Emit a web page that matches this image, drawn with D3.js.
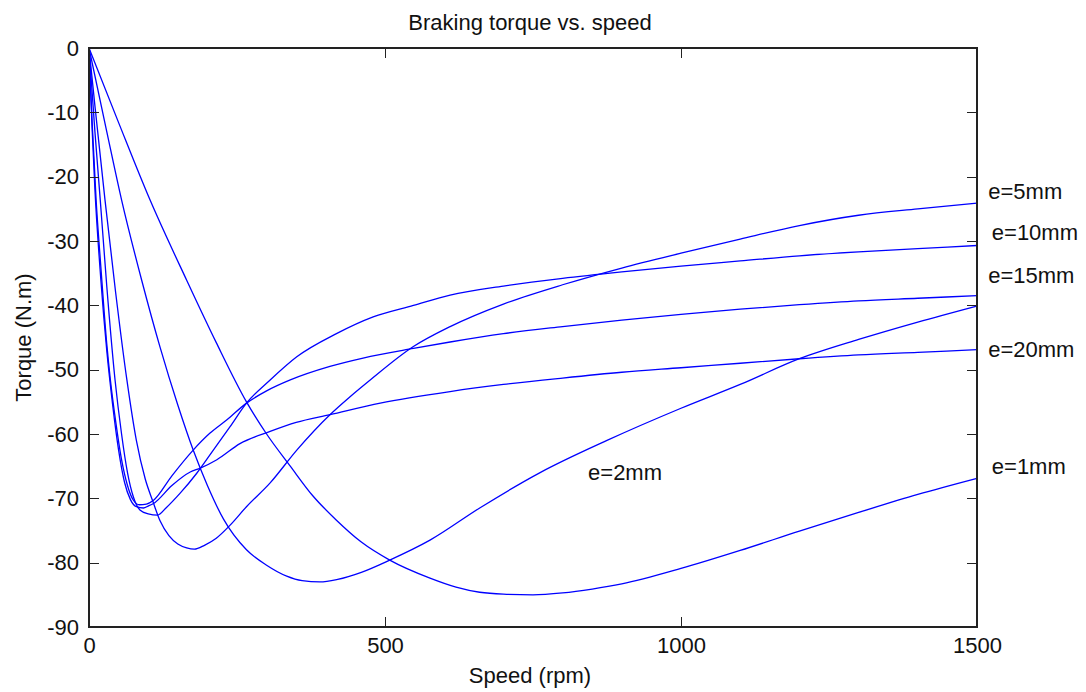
<!DOCTYPE html>
<html>
<head>
    <title>Braking torque vs. speed</title>
    <meta charset="utf-8">
    <style type="text/css">
        body {
            margin: 0;
            background: #fff;
        }

        .axis line {
            stroke: #222;
            stroke-width: 1.3px;
            shape-rendering: crispEdges;
        }

        .axis text, .label, .title, .e-label {
            font-family: "Liberation Sans", Arial, sans-serif;
            font-size: 22px;
            fill: #111;
        }

        .frame {
            fill: none;
            stroke: #222;
            stroke-width: 1.3px;
            shape-rendering: crispEdges;
        }

        .curve {
            fill: none;
            stroke: #0000ff;
            stroke-width: 1.3px;
        }
    </style>
</head>
<body>

<script type="text/javascript" src="https://cdn.jsdelivr.net/npm/d3@7"></script>
<script type="text/javascript">
    /*=========DATA=========*/

    // e = 1mm
    var speed1  = [0, 50, 103, 165, 215, 266, 300, 340, 378, 418, 460, 508, 576, 620, 660, 700, 750, 800, 850, 900, 1000, 1100, 1200, 1300, 1400, 1500];
    var torque1 = [0, -11.6, -23.6, -36.1, -45.8, -55, -60, -65, -69.6, -73.4, -76.8, -79.6, -82.4, -83.8, -84.6, -84.9, -85, -84.7, -84.1, -83.3, -80.9, -78.1, -75.1, -72.2, -69.4, -66.9];

    // e = 2mm
    var speed2  = [0, 30, 55, 89, 120, 150, 176, 200, 227, 266, 300, 334, 360, 390, 420, 460, 508, 576, 660, 762, 875, 1000, 1100, 1200, 1300, 1400, 1500];
    var torque2 = [0, -13, -23.6, -36.1, -46.5, -55.5, -62.5, -68, -73.2, -78, -80.4, -82.1, -82.8, -83, -82.6, -81.5, -79.6, -76.5, -71.5, -66, -61, -56, -52.3, -48.3, -45.3, -42.6, -40.1];

    // e = 5mm
    var speed5  = [0, 10, 27, 45, 64, 80, 95, 108, 120, 135, 150, 165, 178, 195, 215, 238, 266, 306, 351, 407, 441, 475, 548, 610, 700, 800, 900, 1000, 1100, 1200, 1300, 1400, 1500];
    var torque5 = [0, -9, -23.6, -38, -51.6, -61, -67, -70.5, -73.5, -75.8, -77.1, -77.7, -77.9, -77.3, -76.2, -74.2, -71.3, -67.6, -62.5, -57, -54.2, -51.6, -46.4, -43.3, -39.8, -36.8, -34.2, -31.9, -29.7, -27.6, -26, -25, -24.1];

    // e = 10mm
    var speed10  = [0, 10, 19, 30, 44, 55, 65, 75, 86, 100, 116, 130, 154, 182, 210, 238, 266, 306, 351, 418, 480, 548, 610, 700, 800, 900, 1000, 1100, 1200, 1300, 1400, 1500];
    var torque10 = [0, -13, -23.6, -37, -51.6, -60, -66, -69.8, -71.8, -72.4, -72.6, -71.5, -69.2, -66.1, -62.5, -58.9, -55.2, -51.6, -48, -44.4, -41.8, -40, -38.4, -37, -35.8, -34.8, -33.9, -33.1, -32.3, -31.7, -31.2, -30.7];

    // e = 15mm
    var speed15  = [0, 5, 12, 20, 30, 36, 45, 55, 65, 75, 85, 97, 109, 140, 176, 204, 233, 266, 300, 340, 407, 463, 548, 610, 700, 800, 900, 1000, 1100, 1200, 1300, 1400, 1500];
    var torque15 = [0, -11, -23.6, -34, -46, -51.5, -58, -64, -68, -70.3, -71, -70.9, -70.3, -66.5, -62.5, -59.9, -57.8, -55.2, -53.3, -51.6, -49.5, -48.2, -46.7, -45.7, -44.4, -43.3, -42.3, -41.4, -40.6, -39.9, -39.3, -38.9, -38.5];

    // e = 20mm
    var speed20  = [0, 5, 10, 20, 30, 40, 50, 60, 70, 80, 92, 100, 109, 140, 171, 188, 216, 255, 306, 350, 407, 492, 610, 700, 800, 900, 1000, 1100, 1200, 1300, 1400, 1500];
    var torque20 = [0, -12, -22, -36, -47, -55.5, -62.5, -67.5, -70.2, -71.3, -71.5, -71.2, -70.8, -68, -65.9, -65.3, -64, -61.5, -59.6, -58.2, -57, -55.2, -53.4, -52.3, -51.3, -50.4, -49.7, -49, -48.3, -47.7, -47.3, -46.9];

    // text(x, y, ...) annotations, in data units
    var labelText   = ['e=5mm', 'e=10mm', 'e=15mm', 'e=20mm', 'e=1mm', 'e=2mm'];
    var labelSpeed  = [1519, 1525, 1519, 1519, 1525, 843];
    var labelTorque = [-22.2, -28.6, -35.4, -46.8, -65.0, -65.9];

    var xTicks = [0, 500, 1000, 1500];
    var yTicks = [0, -10, -20, -30, -40, -50, -60, -70, -80, -90];

    var series = [
        [speed1, torque1], [speed2, torque2], [speed5, torque5],
        [speed10, torque10], [speed15, torque15], [speed20, torque20]
    ];

    /*=====SIZE SVG======*/
    var svgWidth = 1086;
    var svgHeight = 692;

    var margin = {
        top: 48,
        right: 109,
        bottom: 65,
        left: 89
    };
    var width = svgWidth - margin.left - margin.right;
    var height = svgHeight - margin.top - margin.bottom;

    // plain tick text, hyphen minus, no thousands separator
    var plain = function (d) { return String(d); };

    // scales
    var xScale = d3.scaleLinear().domain([0, 1500]).range([0, width]);
    var yScale = d3.scaleLinear().domain([-90, 0]).range([height, 0]);

    var xAxis = d3.axisBottom(xScale).tickValues(xTicks).tickFormat(plain).tickSizeInner(-10).tickSizeOuter(0).tickPadding(10);
    var yAxis = d3.axisLeft(yScale).tickValues(yTicks).tickFormat(plain).tickSizeInner(-10).tickSizeOuter(0).tickPadding(10);
    var xAxisTop = d3.axisTop(xScale).tickValues(xTicks).tickSizeInner(-10).tickSizeOuter(0).tickFormat('');
    var yAxisRight = d3.axisRight(yScale).tickValues(yTicks).tickSizeInner(-10).tickSizeOuter(0).tickFormat('');

    var svg = d3.select("body").append("svg")
        .attr("width", svgWidth).attr("height", svgHeight)
        .style("background", "#fff");

    var focus = svg.append("g")
        .attr("transform", 'translate(' + margin.left + ',' + margin.top + ')');

    // curves
    var line = d3.line()
        .x(function (d) { return xScale(d[0]); })
        .y(function (d) { return yScale(d[1]); })
        .curve(d3.curveMonotoneX);

    focus.selectAll(".curve")
        .data(series)
        .enter()
        .append("path")
        .attr("class", "curve")
        .attr("d", function (s) {
            return line(s[0].map(function (v, i) { return [v, s[1][i]]; }));
        });

    // axes (ticks on all four sides, pointing inward)
    focus.append("g").attr("class", "axis")
        .attr("transform", "translate(0," + height + ")")
        .call(xAxis);
    focus.append("g").attr("class", "axis")
        .call(yAxis);
    focus.append("g").attr("class", "axis")
        .call(xAxisTop);
    focus.append("g").attr("class", "axis")
        .attr("transform", "translate(" + width + ",0)")
        .call(yAxisRight);
    focus.selectAll(".axis .domain").remove();
    focus.selectAll(".axis text").attr("font-family", null).attr("font-size", null).attr("fill", null);

    focus.append("rect").attr("class", "frame")
        .attr("x", 0).attr("y", 0)
        .attr("width", width).attr("height", height);

    // curve labels
    focus.selectAll(".e-label")
        .data(labelText)
        .enter()
        .append("text")
        .attr("class", "e-label")
        .attr("x", function (d, i) { return xScale(labelSpeed[i]); })
        .attr("y", function (d, i) { return yScale(labelTorque[i]); })
        .attr("dy", "0.35em")
        .text(function (d) { return d; });

    // title and axis labels
    svg.append("text").attr("class", "title")
        .attr("x", margin.left + width / 2 - 3)
        .attr("y", 30)
        .attr("text-anchor", "middle")
        .text("Braking torque vs. speed");

    svg.append("text").attr("class", "label")
        .attr("x", margin.left + width / 2 - 3)
        .attr("y", 683)
        .attr("text-anchor", "middle")
        .text("Speed (rpm)");

    svg.append("text").attr("class", "label")
        .attr("transform", "translate(31," + (margin.top + height / 2) + ") rotate(-90)")
        .attr("text-anchor", "middle")
        .text("Torque (N.m)");
</script>
</body>
</html>
